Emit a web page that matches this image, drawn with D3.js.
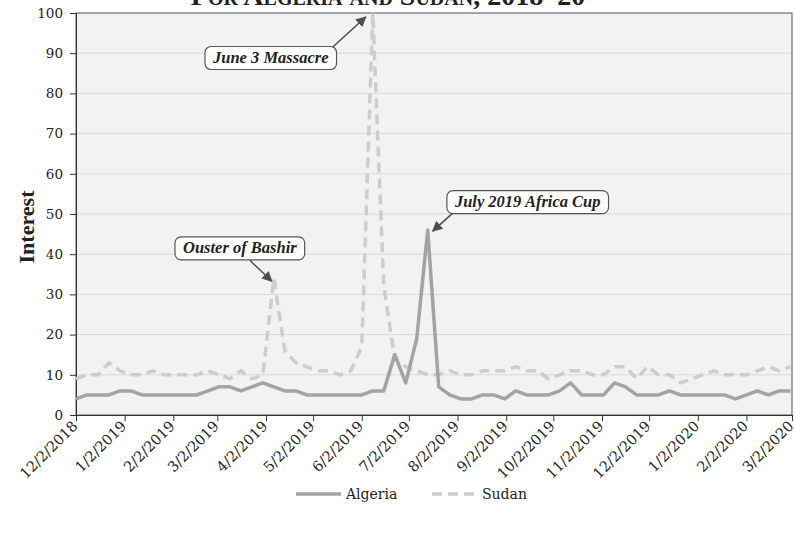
<!DOCTYPE html>
<html>
<head>
<meta charset="utf-8">
<script src="https://cdn.jsdelivr.net/npm/d3@7"></script>
<style>
  body { margin: 0; background: #fff; }
  text { font-family: "Liberation Serif", "Times New Roman", serif; fill: #222; }
</style>
</head>
<body>
<div id="chart"></div>
<script>
// weekly Google search interest (weeks starting 12/2/2018)
var algeria = [4, 5, 5, 5, 6, 6, 5, 5, 5, 5, 5, 5, 6, 7, 7, 6, 7, 8, 7, 6,
               6, 5, 5, 5, 5, 5, 5, 6, 6, 15, 8, 19, 46, 7, 5, 4, 4, 5, 5, 4,
               6, 5, 5, 5, 6, 8, 5, 5, 5, 8, 7, 5, 5, 5, 6, 5, 5, 5, 5, 5,
               4, 5, 6, 5, 6, 6];
var sudan = [9, 10, 10, 13, 11, 10, 10, 11, 10, 10, 10, 10, 11, 10, 9, 11, 9, 10, 34, 16,
             13, 12, 11, 11, 10, 11, 17, 100, 32, 14, 12, 11, 10, 10, 11, 10, 10, 11, 11, 11,
             12, 11, 11, 9, 10, 11, 11, 10, 10, 12, 12, 9, 12, 10, 10, 8, 9, 10, 11, 10,
             10, 10, 11, 12, 11, 12];
var tickLabels = ["12/2/2018", "1/2/2019", "2/2/2019", "3/2/2019", "4/2/2019", "5/2/2019",
                  "6/2/2019", "7/2/2019", "8/2/2019", "9/2/2019", "10/2/2019", "11/2/2019",
                  "12/2/2019", "1/2/2020", "2/2/2020", "3/2/2020"];
var yTicks = [0, 10, 20, 30, 40, 50, 60, 70, 80, 90, 100];
var notes = [
  {label: "Ouster of Bashir", week: 18, value: 34},
  {label: "June 3 Massacre", week: 27, value: 100},
  {label: "July 2019 Africa Cup", week: 32, value: 46}
];

var width = 795, height = 536;
var margin = {top: 13, left: 76, right: 3, bottom: 121};
var innerW = width - margin.left - margin.right,
    innerH = height - margin.top - margin.bottom;
var tickFont = "'DejaVu Serif', serif";

var parse = d3.timeParse("%m/%d/%Y");
var start = parse("12/2/2018");
var weeks = algeria.map(function(d, i) { return d3.timeDay.offset(start, i * 7); });

var x = d3.scaleTime()
    .domain([start, parse("3/2/2020")])
    .range([0, innerW]);
var y = d3.scaleLinear()
    .domain([0, 100])
    .range([innerH, 0]);

var svg = d3.select("#chart").append("svg")
    .attr("width", width)
    .attr("height", height);

svg.append("defs").append("marker")
    .attr("id", "arrow")
    .attr("viewBox", "0 0 10 10")
    .attr("refX", 9).attr("refY", 5)
    .attr("markerWidth", 7).attr("markerHeight", 7)
    .attr("markerUnits", "strokeWidth")
    .attr("orient", "auto")
  .append("path")
    .attr("d", "M0,0L10,5L0,10Z")
    .attr("fill", "#4d4d4d");

// title, cut at the top of the page
svg.append("text")
    .attr("x", 388).attr("y", 5)
    .attr("text-anchor", "middle")
    .style("font-size", "28px")
    .style("font-weight", "bold")
    .style("font-variant", "small-caps")
    .text("For Algeria and Sudan, 2018–20");

var g = svg.append("g")
    .attr("transform", "translate(" + margin.left + "," + margin.top + ")");

g.append("rect")
    .attr("width", innerW).attr("height", innerH)
    .attr("fill", "#f1f2f4");

g.selectAll(".grid")
    .data(yTicks.slice(1, -1))
    .enter().append("line")
    .attr("class", "grid")
    .attr("x1", 0).attr("x2", innerW)
    .attr("y1", function(d) { return y(d); })
    .attr("y2", function(d) { return y(d); })
    .attr("stroke", "#d9d9d9");

g.append("rect")
    .attr("width", innerW).attr("height", innerH)
    .attr("fill", "none")
    .attr("stroke", "#555");

var yAxis = g.append("g")
    .call(d3.axisLeft(y).tickValues(yTicks).tickSize(6).tickPadding(7));
yAxis.select(".domain").attr("stroke", "#333");
yAxis.selectAll(".tick line").attr("stroke", "#333");
yAxis.selectAll("text")
    .style("font-size", "13.5px")
    .style("font-family", tickFont);

var tickDates = tickLabels.map(parse);
var xAxis = g.append("g")
    .attr("transform", "translate(0," + innerH + ")")
    .call(d3.axisBottom(x).tickValues(tickDates).tickSize(6)
        .tickFormat(function(d, i) { return tickLabels[i]; }));
xAxis.select(".domain").attr("stroke", "#333");
xAxis.selectAll(".tick line").attr("stroke", "#333");
xAxis.selectAll("text")
    .style("font-size", "14.5px")
    .style("font-family", tickFont)
    .attr("text-anchor", "end")
    .attr("dy", null)
    .attr("y", 0)
    .attr("transform", "translate(2,12) rotate(-45)");

svg.append("text")
    .attr("transform", "translate(34,227) rotate(-90)")
    .attr("text-anchor", "middle")
    .style("font-size", "22px")
    .style("font-weight", "bold")
    .text("Interest");

var line = d3.line()
    .x(function(d, i) { return x(weeks[i]); })
    .y(function(d) { return y(d); });

g.append("path")
    .datum(sudan)
    .attr("d", line)
    .attr("fill", "none")
    .attr("stroke", "#cdcdcd")
    .attr("stroke-width", 3.5)
    .attr("stroke-dasharray", "10,6");

g.append("path")
    .datum(algeria)
    .attr("d", line)
    .attr("fill", "none")
    .attr("stroke", "#a3a3a3")
    .attr("stroke-width", 3.5)
    .attr("stroke-linejoin", "round");

// callouts: box centre offset, arrow start (from box centre), arrow tip offset
var placement = {
  "Ouster of Bashir":     {bx: -34, by: -30, ax: 10, ay: 12, tx: -2, ty: 3},
  "June 3 Massacre":      {bx: -102, by: 45, ax: 62, ay: -11, tx: -7, ty: 4},
  "July 2019 Africa Cup": {bx: 100, by: -28, ax: -75, ay: 11, tx: 5, ty: 1}
};

notes.forEach(function(n) {
  var p = placement[n.label];
  var px = x(weeks[n.week]), py = y(n.value);
  var cx = px + p.bx, cy = py + p.by;

  var box = g.append("g");
  var t = box.append("text")
      .attr("x", cx).attr("y", cy + 5)
      .attr("text-anchor", "middle")
      .style("font-size", "16.5px")
      .style("font-weight", "bold")
      .style("font-style", "italic")
      .text(n.label);
  var w = t.node().getComputedTextLength() + 16;
  box.insert("rect", "text")
      .attr("x", cx - w / 2).attr("y", cy - 11.5)
      .attr("width", w).attr("height", 23)
      .attr("rx", 6)
      .attr("fill", "#fff")
      .attr("stroke", "#555")
      .attr("stroke-width", 1.2);

  g.append("line")
      .attr("x1", cx + p.ax).attr("y1", cy + p.ay)
      .attr("x2", px + p.tx).attr("y2", py + p.ty)
      .attr("stroke", "#4d4d4d")
      .attr("stroke-width", 1.5)
      .attr("marker-end", "url(#arrow)");
});

// legend
var legend = svg.append("g").attr("transform", "translate(0,494)");
var items = [
  {name: "Algeria", color: "#a3a3a3", dash: null, x: 296},
  {name: "Sudan", color: "#cdcdcd", dash: "10,6", x: 432}
];
items.forEach(function(d) {
  legend.append("line")
      .attr("x1", d.x).attr("x2", d.x + 45)
      .attr("y1", 0).attr("y2", 0)
      .attr("stroke", d.color)
      .attr("stroke-width", 3.5)
      .attr("stroke-dasharray", d.dash);
  legend.append("text")
      .attr("x", d.x + 50).attr("y", 5)
      .style("font-size", "14px")
      .style("font-family", tickFont)
      .text(d.name);
});
</script>
</body>
</html>
